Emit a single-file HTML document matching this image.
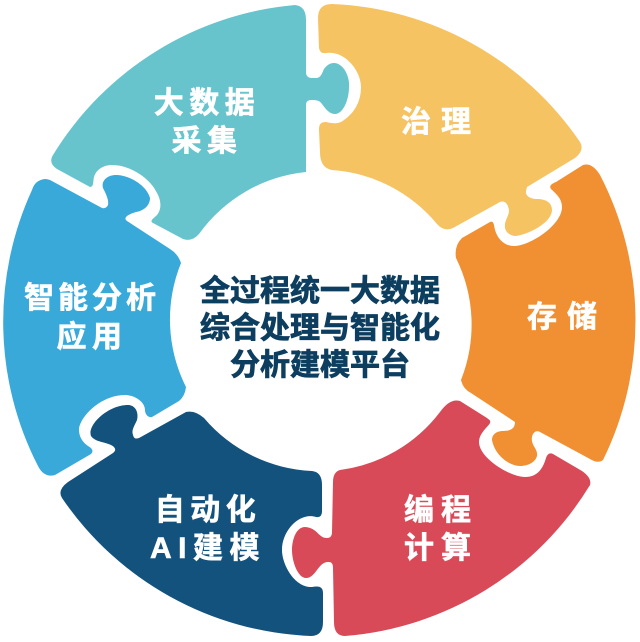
<!DOCTYPE html>
<html>
<head>
<meta charset="utf-8">
<style>
html,body{margin:0;padding:0;background:#fff;width:640px;height:642px;overflow:hidden}
svg{display:block}
text{font-family:"Liberation Sans","Noto Sans CJK SC",sans-serif;font-weight:700;text-anchor:middle}
.l{font-size:30px;fill:#fff;stroke:#fff;stroke-width:.6px;letter-spacing:5.5px}
.c{font-size:30px;fill:#0d3e5f;stroke:#0d3e5f;stroke-width:.8px}
</style>
</head>
<body>
<svg width="640" height="642" viewBox="0 0 640 642" xmlns="http://www.w3.org/2000/svg">
<rect width="640" height="642" fill="#fff"/>
<path fill="#67c4cd" d="M295 5Q306 6 306 20L306 72Q306 78 312 78L316 78C321 78 322 73 324 69C327 65 330 63 334 63C343 63 350 76 349 87C349 100 343 114 335 114C329 114 325 108 322 104C320 101 317 100 313 100L311 100Q306 100 306 105L306 172A150 150 0 0 0 199 234Q192 242 183 239L153 223C149 221 154 218 157 215C162 209 161 200 157 193C150 178 130 165 112 165C103 165 96 170 94 177C93 181 94 187 90 187L57 169Q48 163 53 155A316 316 0 0 1 295 5Z"/>
<path fill="#f5c362" d="M332 4Q318 4 318 18L319 48Q320 54 326 53C344 50 361 70 361 87C361 102 354 113 344 120C338 125 331 123 326 122C320 122 319 125 319 130L320 152Q320 168 332 170A150 150 0 0 1 437 224Q444 232 453 228L500 202C505 200 508 204 509 210C509 217 504 220 505 228C506 233 511 236 516 236C530 234 552 222 552 210C552 202 545 199 537 199C531 199 525 196 526 191L527 187L575 158Q585 150 580 142A316 316 0 0 0 332 4Z"/>
<path fill="#f09032" d="M600 175A316 316 0 0 1 603 460Q598 464 590 459L540 432C534 429 531 436 532 441C533 447 538 450 537 456C535 463 527 466 520 466C510 466 495 456 492 440C492 434 497 431 503 431C510 431 515 429 515 422L471 393Q463 389 461 380A150 150 0 0 0 456 258Q454 246 462 238L490 222C494 220 494 226 495 230C498 240 505 246 514 246C530 246 562 225 562 207C562 198 555 193 551 189C549 186 551 184 556 182L583 165Q592 162 600 175Z"/>
<path fill="#d94a58" d="M340 470Q333 472 333 482L332 532Q332 538 327 538C318 538 318 528 305 527C296 527 292 540 292 550C292 562 298 578 306 578C316 578 318 562 328 562L329 562Q333 562 333 568L334 622Q334 636 345 636A316 316 0 0 0 590 485Q592 478 582 471L553 454C549 452 547 455 546 458C543 468 538 477 525 477C510 477 479 458 479 442C479 433 488 427 490 423C491 420 489 420 487 418L460 401Q450 398 440 412A150 150 0 0 1 340 470Z"/>
<path fill="#14527e" d="M204 418A150 150 0 0 0 312 471Q322 472 322 485L322 511Q322 518 316 517C300 512 282 530 282 550C282 565 295 588 312 587C318 586 323 586 323 593L323 622Q323 636 311 636A316 316 0 0 1 62 498Q57 490 68 482L113 453C117 450 115 447 111 445C105 442 95 442 91 436C87 425 108 405 128 405C135 405 139 412 137 420C135 425 131 430 133 435C134 439 136 439 139 438L186 412Q195 410 204 418Z"/>
<path fill="#38a9d9" d="M45 179Q35 180 32 190A316 316 0 0 0 38 466Q44 478 55 475L91 454Q95 450 88 446C82 442 79 436 79 430C79 418 100 395 125 395C135 395 145 402 145 410C145 414 148 418 152 417L179 401Q185 396 186 387A150 150 0 0 1 181 263Q178 254 170 249L127 221C122 217 130 214 136 212C143 211 150 206 150 198C147 186 130 175 116 175C107 175 101 181 103 188C106 194 109 200 108 205Q106 209 102 208L50 180Q47 179 45 179Z"/>
<text class="l" x="207" y="113">大数据</text>
<text class="l" x="207" y="151">采集</text>
<text class="l" x="441" y="132" style="letter-spacing:10px">治理</text>
<text class="l" x="567" y="327" style="letter-spacing:10px">存储</text>
<text class="l" x="441" y="520" style="letter-spacing:7px">编程</text>
<text class="l" x="441" y="558" style="letter-spacing:7px">计算</text>
<text class="l" x="208" y="520">自动化</text>
<text class="l" x="208" y="558" style="letter-spacing:6.5px">AI建模</text>
<text class="l" x="92" y="308" style="letter-spacing:4px">智能分析</text>
<text class="l" x="92" y="347">应用</text>
<text class="c" x="320" y="301">全过程统一大数据</text>
<text class="c" x="320" y="338">综合处理与智能化</text>
<text class="c" x="320" y="375">分析建模平台</text>
</svg>
</body>
</html>
